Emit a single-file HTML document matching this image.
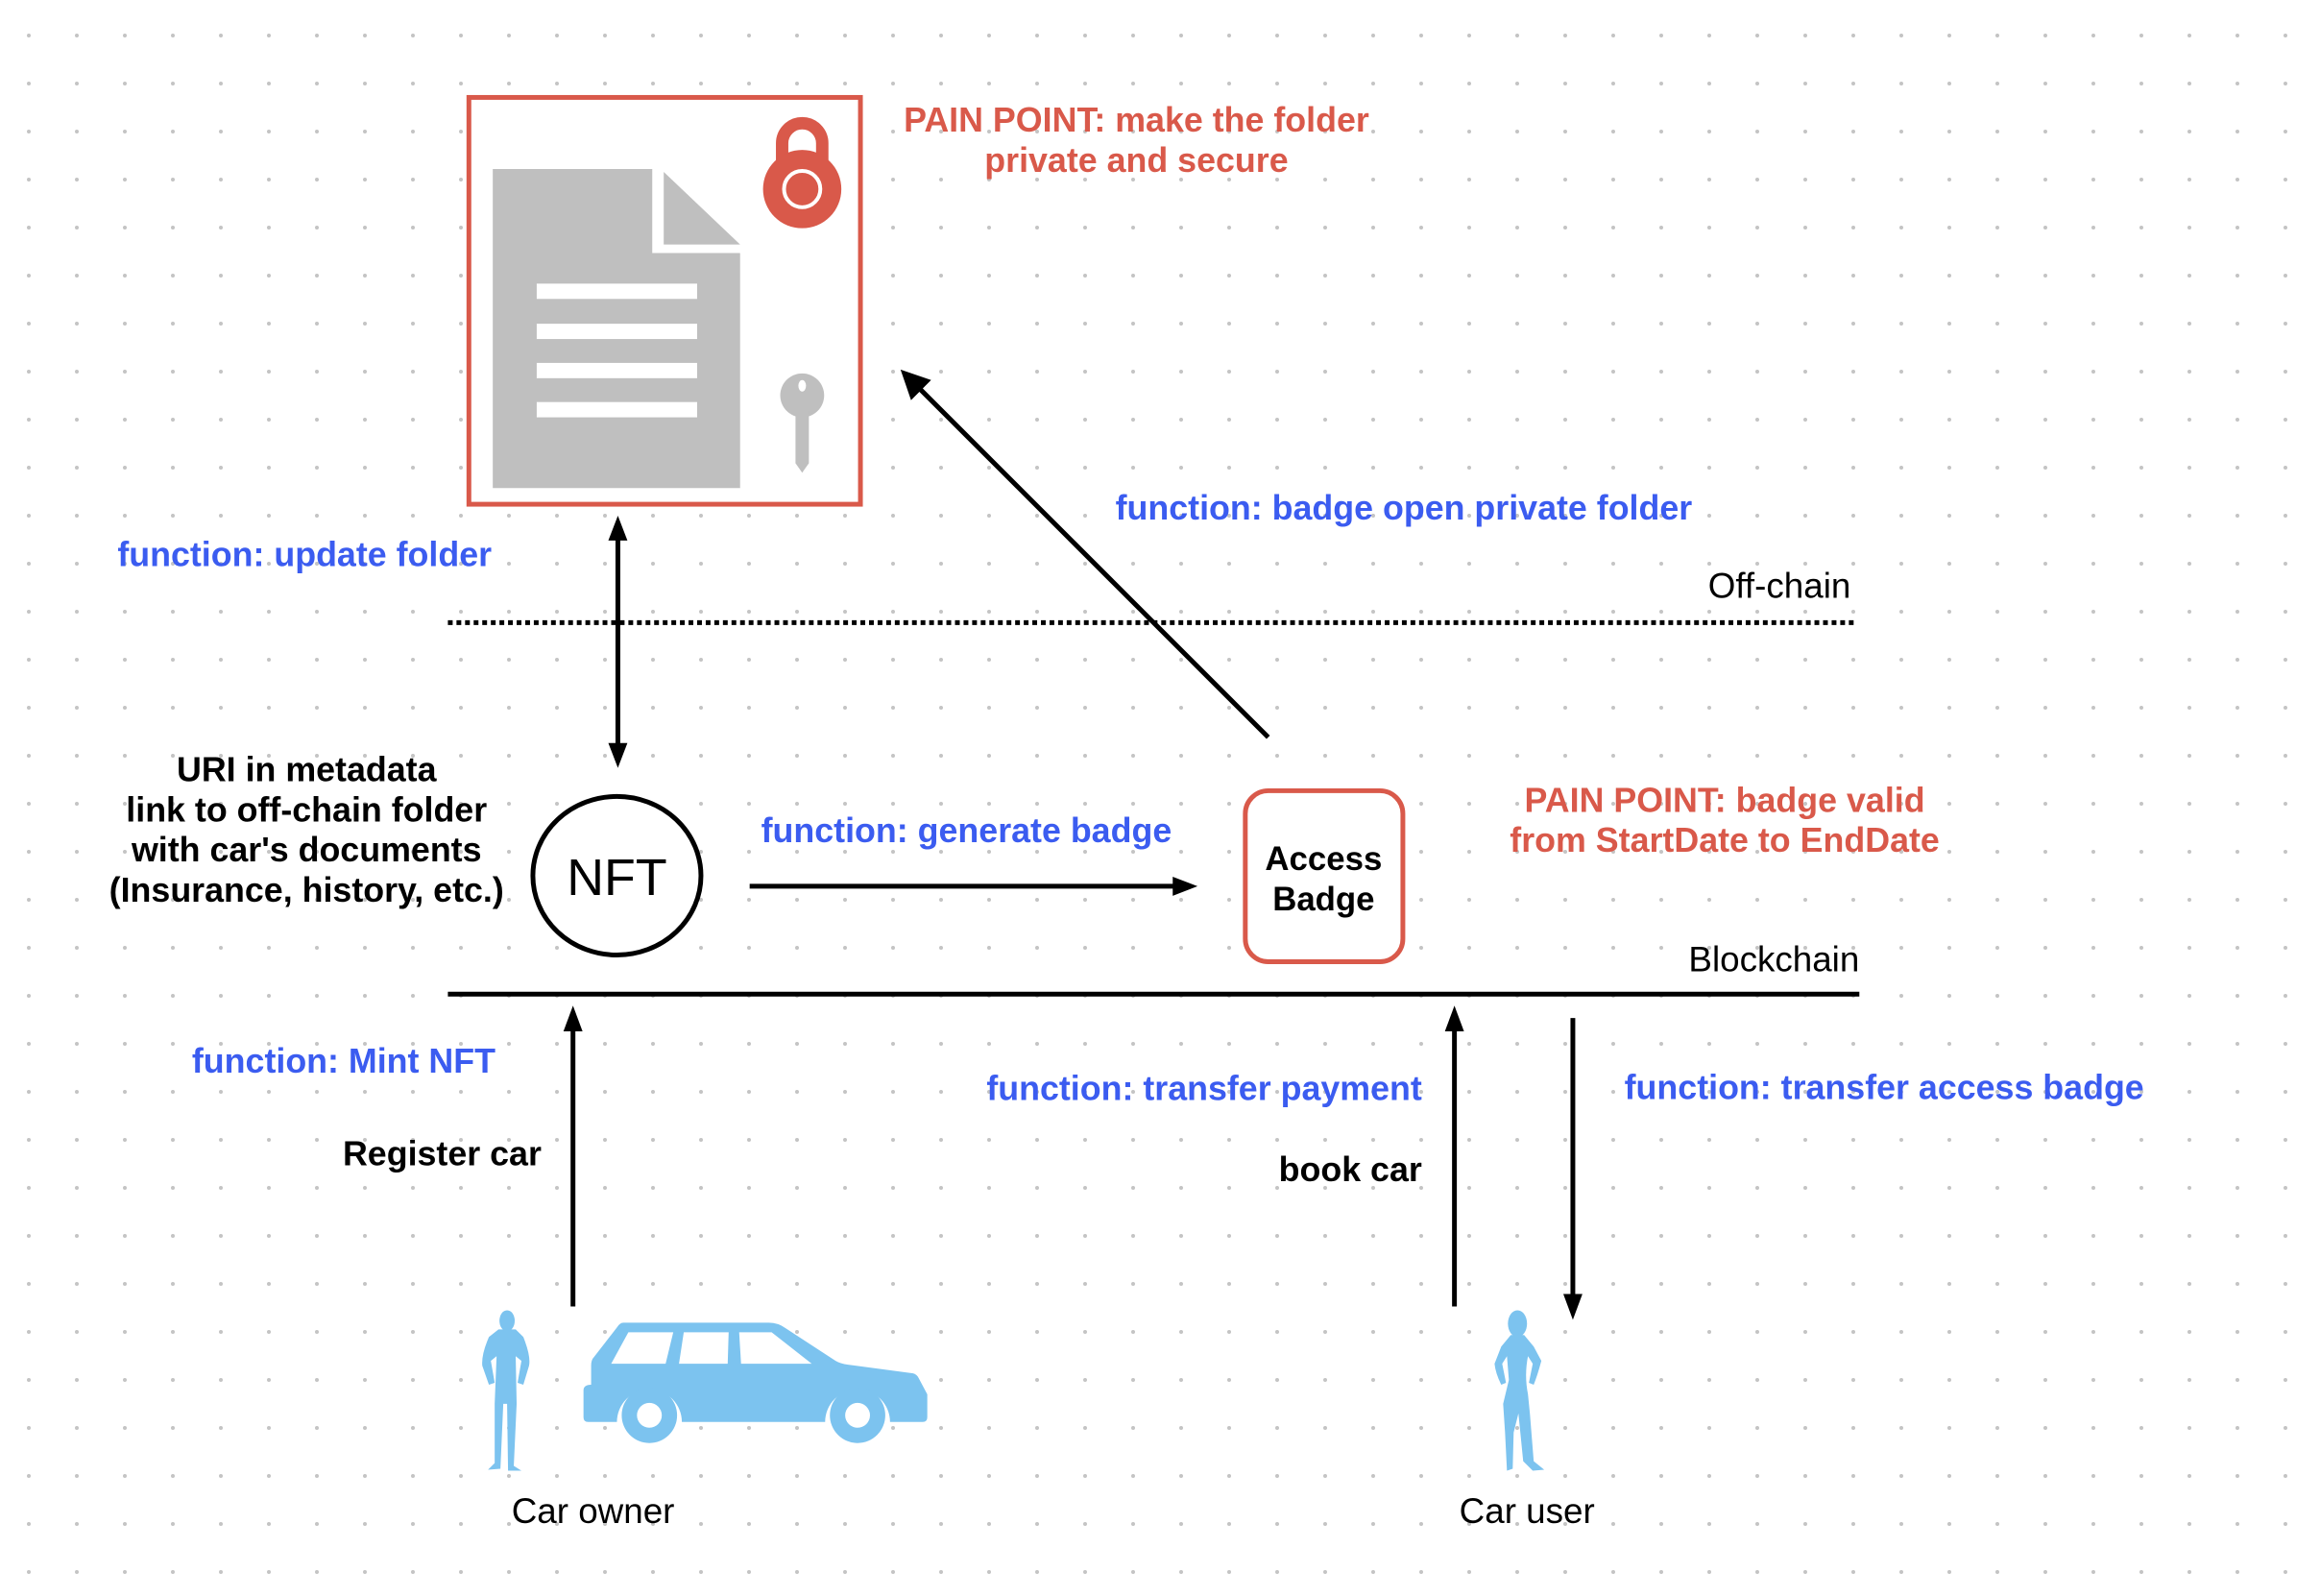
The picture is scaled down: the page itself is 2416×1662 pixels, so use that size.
<!DOCTYPE html>
<html><head><meta charset="utf-8"><style>
html,body{margin:0;padding:0;background:#fff}
svg{display:block}
text{font-family:"Liberation Sans",sans-serif}
.b{font-weight:bold;fill:#000}
.bl{font-weight:bold;fill:#3b5cf0}
.rd{font-weight:bold;fill:#d9594a}
</style></head><body>
<svg width="2416" height="1662" viewBox="0 0 2416 1662" xmlns="http://www.w3.org/2000/svg">
<defs>
<pattern id="dots" x="5" y="12" width="50" height="50" patternUnits="userSpaceOnUse">
<circle cx="25" cy="25" r="2" fill="#c4c4c4"/>
</pattern>
</defs>
<rect width="2416" height="1662" fill="url(#dots)"/>
<g transform="scale(0.9945)">
<!-- folder box -->
<rect x="491" y="102" width="410" height="426" fill="#fff" stroke="#d9594a" stroke-width="5"/>
<path d="M516 177 H683 V265 H775 V511 H516 Z" fill="#bfbfbf"/>
<path d="M695 180 L775 256 H695 Z" fill="#bfbfbf"/>
<g fill="#fff">
<rect x="562" y="297" width="168" height="16"/>
<rect x="562" y="339" width="168" height="16"/>
<rect x="562" y="380" width="168" height="16"/>
<rect x="562" y="421" width="168" height="16"/>
</g>
<path d="M819 200 V150 a21 21 0 0 1 42 0 V200" fill="none" stroke="#d9594a" stroke-width="13"/>
<circle cx="840" cy="198" r="41" fill="#d9594a"/>
<circle cx="840" cy="198" r="19" fill="none" stroke="#fff" stroke-width="4"/>
<circle cx="840" cy="414" r="23" fill="#bfbfbf"/>
<ellipse cx="840" cy="404" rx="4" ry="6" fill="#fff"/>
<path d="M833 430 H847 V485 L840 495 L833 485 Z" fill="#bfbfbf"/>

<text x="1190" y="138" class="rd" font-size="36" text-anchor="middle">PAIN POINT: make the folder</text>
<text x="1190" y="180" class="rd" font-size="36" text-anchor="middle">private and secure</text>

<line x1="1328" y1="772" x2="955" y2="399" stroke="#000" stroke-width="5"/>
<path d="M943 387 L975 398 L954 419 Z" fill="#000"/>
<text x="1470" y="544" class="bl" font-size="36" text-anchor="middle">function: badge open private folder</text>

<text x="123" y="593" class="bl" font-size="36">function: update folder</text>

<text x="1938" y="626" font-size="37" text-anchor="end" fill="#000">Off-chain</text>
<line x1="469" y1="652" x2="1944" y2="652" stroke="#000" stroke-width="5" stroke-dasharray="5 4"/>

<line x1="647" y1="560" x2="647" y2="785" stroke="#000" stroke-width="5"/>
<path d="M647 540 L637 566 H657 Z" fill="#000"/>
<path d="M647 804 L637 778 H657 Z" fill="#000"/>

<ellipse cx="646" cy="917" rx="88" ry="83" fill="#fff" stroke="#000" stroke-width="5"/>
<text x="646" y="937" font-size="54" text-anchor="middle" fill="#000">NFT</text>

<g font-size="36" text-anchor="middle">
<text x="321" y="818" class="b">URI in metadata</text>
<text x="321" y="860" class="b">link to off-chain folder</text>
<text x="321" y="902" class="b">with car's documents</text>
<text x="321" y="944" class="b">(Insurance, history, etc.)</text>
</g>

<text x="1012" y="882" class="bl" font-size="36" text-anchor="middle">function: generate badge</text>
<line x1="785" y1="928" x2="1230" y2="928" stroke="#000" stroke-width="5"/>
<path d="M1254 928 L1228 918 V938 Z" fill="#000"/>

<rect x="1304" y="828" width="165" height="179" rx="24" fill="#fff" stroke="#d9594a" stroke-width="5"/>
<text x="1386" y="911" class="b" font-size="35" text-anchor="middle">Access</text>
<text x="1386" y="953" class="b" font-size="35" text-anchor="middle">Badge</text>

<text x="1806" y="850" class="rd" font-size="36" text-anchor="middle">PAIN POINT:  badge valid</text>
<text x="1806" y="892" class="rd" font-size="36" text-anchor="middle">from StartDate to EndDate</text>

<text x="1947" y="1017" font-size="37" text-anchor="end" fill="#000">Blockchain</text>
<line x1="469" y1="1041" x2="1947" y2="1041" stroke="#000" stroke-width="5"/>

<line x1="600" y1="1368" x2="600" y2="1070" stroke="#000" stroke-width="5"/>
<path d="M600 1053 L590 1080 H610 Z" fill="#000"/>
<text x="201" y="1123" class="bl" font-size="36">function: Mint NFT</text>
<text x="567" y="1220" class="b" font-size="36" text-anchor="end">Register car</text>

<line x1="1523" y1="1368" x2="1523" y2="1070" stroke="#000" stroke-width="5"/>
<path d="M1523 1053 L1513 1080 H1533 Z" fill="#000"/>
<line x1="1647" y1="1066" x2="1647" y2="1360" stroke="#000" stroke-width="5"/>
<path d="M1647 1382 L1637 1355 H1657 Z" fill="#000"/>
<text x="1489" y="1152" class="bl" font-size="36" text-anchor="end">function: transfer payment</text>
<text x="1489" y="1237" class="b" font-size="36" text-anchor="end">book car</text>
<text x="1701" y="1151" class="bl" font-size="36">function: transfer access badge</text>

<g fill="#7cc3ef">
<ellipse cx="531" cy="1383" rx="8" ry="11"/>
<path d="M522 1392 H540 L548 1400 Q556 1420 554 1430 L548 1450 L542 1448 L546 1425 L540 1420 L541 1470 L538 1535 L546 1540 L532 1540 L531 1470 L527 1470 L524 1538 L511 1539 L518 1532 L518 1470 L520 1420 L514 1425 L518 1448 L512 1450 L505 1430 Q504 1418 512 1400 Z"/>
</g>
<path d="M653 1385 H805 Q815 1385 823 1391 L875 1425 Q880 1428 888 1429 L956 1438 Q960 1439 962 1443 L971 1460 V1484 Q971 1489 966 1489 H932 A34 34 0 0 0 864 1489 H714 A34 34 0 0 0 646 1489 H616 Q611 1489 611 1484 V1456 Q611 1450 619 1450 V1430 Q619 1424 622 1421 L646 1390 Q649 1385 653 1385 Z" fill="#7cc3ef"/>
<g fill="#fff">
<path d="M658 1395 H705 L697 1428 H640 Z"/>
<path d="M716 1395 H763 L762 1428 H711 Z"/>
<path d="M774 1395 H808 L850 1428 H776 Z"/>
</g>
<circle cx="680" cy="1482" r="29" fill="#7cc3ef"/>
<circle cx="680" cy="1482" r="13" fill="#fff"/>
<circle cx="898" cy="1482" r="29" fill="#7cc3ef"/>
<circle cx="898" cy="1482" r="13" fill="#fff"/>
<text x="621" y="1595" font-size="37" text-anchor="middle" fill="#000">Car owner</text>

<g fill="#7cc3ef">
<ellipse cx="1589" cy="1386" rx="10" ry="14"/>
<path d="M1582 1398 H1596 L1606 1410 L1614 1425 Q1610 1440 1606 1450 L1601 1448 L1605 1428 L1600 1420 Q1596 1440 1600 1460 L1602 1480 L1606 1530 L1617 1539 L1605 1540 L1595 1530 L1590 1480 L1585 1500 L1584 1538 L1578 1540 L1576 1500 L1574 1470 L1580 1445 L1578 1420 L1573 1428 L1577 1448 L1572 1450 Q1566 1438 1565 1428 L1572 1410 Z"/>
</g>
<text x="1599" y="1595" font-size="37" text-anchor="middle" fill="#000">Car user</text>
</g>
</svg>
</body></html>
